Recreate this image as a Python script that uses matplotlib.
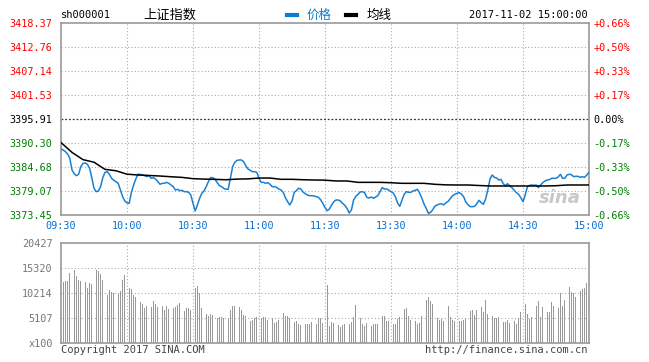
import numpy as np
import matplotlib.pyplot as plt

plt.rcParams['font.family'] = ['DejaVu Sans Mono', 'Noto Sans CJK SC']

# price per minute, 09:30..11:30 then 13:01..15:00
price = [
    3388.89, 3388.66, 3388.27, 3387.72, 3386.71, 3383.98, 3383.12, 3382.65, 3382.97, 3384.76,
    3385.54, 3385.62, 3385.31, 3384.37, 3382.19, 3379.69, 3378.91, 3379.07, 3380.08, 3382.19,
    3383.43, 3383.59, 3382.97, 3382.03, 3381.56, 3381.25, 3380.86, 3379.30, 3377.74, 3376.73,
    3376.26, 3376.18, 3378.75, 3380.47, 3381.87, 3382.97, 3382.97, 3382.81, 3382.65, 3382.42,
    3382.65, 3382.03, 3382.19, 3381.87, 3381.25, 3380.63, 3380.86, 3380.86, 3381.09, 3380.86,
    3380.47, 3380.08, 3379.30, 3379.46, 3379.14, 3379.22, 3378.91, 3378.91, 3378.75, 3378.13,
    3376.18, 3374.39, 3375.79, 3377.35, 3378.52, 3379.07, 3380.08, 3381.25, 3382.19, 3382.19,
    3381.80, 3381.02, 3380.31, 3380.08, 3379.69, 3379.46, 3379.46, 3382.03, 3384.76, 3385.77,
    3386.24, 3386.32, 3386.32, 3385.93, 3384.99, 3384.21, 3383.90, 3383.59, 3383.59, 3383.43,
    3382.03, 3381.09, 3381.09, 3380.86, 3381.02, 3380.63, 3380.08, 3380.08, 3379.92, 3379.53,
    3379.30, 3378.75, 3377.51, 3376.57, 3375.79, 3376.73, 3378.75, 3379.14, 3379.69, 3379.53,
    3378.83, 3378.44, 3378.13, 3377.97, 3377.97, 3377.90, 3377.74, 3377.58, 3377.04, 3376.18,
    3375.17, 3374.46, 3374.85, 3375.79, 3376.57, 3376.96, 3376.96, 3376.73, 3376.18, 3375.71,
    3375.01, 3373.92, 3374.62, 3376.96, 3377.82, 3378.29, 3378.83, 3378.91, 3378.68, 3377.58,
    3377.43, 3377.66, 3377.35, 3377.66, 3377.97, 3378.91, 3379.85, 3379.53, 3379.53, 3379.30,
    3378.91, 3378.60, 3377.74, 3376.26, 3375.48, 3376.96, 3378.29, 3378.91, 3378.75, 3378.75,
    3379.07, 3379.22, 3379.46, 3378.60, 3377.43, 3376.02, 3375.01, 3373.84, 3374.07, 3374.70,
    3375.56, 3375.79, 3376.02, 3376.10, 3375.79, 3376.34, 3376.65, 3377.35, 3377.97, 3378.29,
    3378.52, 3378.68, 3378.36, 3377.74, 3376.49, 3375.87, 3375.40, 3375.40, 3375.48, 3376.10,
    3376.88, 3376.34, 3375.95, 3377.19, 3379.30, 3381.87, 3382.81, 3382.26, 3382.11, 3381.64,
    3381.80, 3380.78, 3380.31, 3380.78, 3380.24, 3379.85, 3379.22, 3378.68, 3378.29, 3377.51,
    3376.57, 3378.13, 3380.08, 3380.39, 3380.47, 3380.39, 3380.47, 3379.85, 3380.47, 3381.02,
    3381.41, 3381.64, 3381.72, 3382.03, 3382.03, 3382.03, 3382.34, 3382.97, 3382.03, 3382.03,
    3382.81, 3382.97, 3382.89, 3382.42, 3382.50, 3382.50, 3382.26, 3382.42, 3382.26, 3382.81,
    3383.43,
]

# average line, read every 5 minutes
avg_min = list(range(0, 241, 5))
avg_price = [
    3390.40, 3388.10, 3386.40, 3385.80, 3384.13, 3383.80, 3383.00, 3382.81, 3382.70, 3382.57,
    3382.40, 3382.25, 3381.95, 3381.85, 3381.79, 3381.70, 3381.85, 3381.90, 3382.10, 3382.10,
    3381.80, 3381.80, 3381.70, 3381.64, 3381.60, 3381.41, 3381.41, 3381.09, 3381.09, 3381.09,
    3381.00, 3380.86, 3380.86, 3380.86, 3380.63, 3380.50, 3380.47, 3380.47, 3380.35, 3380.24,
    3380.24, 3380.24, 3380.24, 3380.24, 3380.24, 3380.30, 3380.47, 3380.47, 3380.47,
]

# volume per minute (x100)
volume = [
    12390, 12390, 12660, 12660, 14230, 14710, 14910, 13690, 12870, 12660,
    12530, 12390, 11170, 12190, 11980, 14030, 14910, 14710, 14030, 12870,
    11440, 9800, 10830, 10490, 10150, 9800, 9940, 10620, 12870, 13890,
    12320, 11300, 10960, 9800, 9330, 8780, 8440, 7900, 7220, 7560,
    7560, 7290, 8580, 7970, 7420, 7290, 7560, 6740, 7560, 6880,
    6740, 7220, 7290, 7760, 8100, 6740, 6540, 7220, 7080, 6740,
    9330, 11170, 11640, 10150, 7220, 6540, 5920, 5580, 5860, 5720,
    5380, 5170, 5240, 5310, 5040, 4700, 5040, 6740, 7560, 7560,
    6540, 7350, 6740, 5720, 5520, 5040, 4490, 4700, 5040, 5310,
    5170, 5040, 5240, 5310, 4700, 5310, 5040, 4020, 4360, 4700,
    5040, 6060, 5520, 5520, 5040, 6740, 4220, 4490, 3880, 3680,
    3680, 3880, 3880, 3810, 4220, 3810, 3810, 5040, 5040, 4020,
    410, 11850, 3470, 4360, 4150, 4490, 3680, 3340, 3680, 3880,
    3470, 3880, 4360, 5380, 7760, 5920, 5040, 3880, 3470, 4020,
    3680, 3470, 3810, 3880, 3880, 4020, 5520, 5520, 4490, 4490,
    3880, 3880, 3880, 4830, 5240, 6950, 6950, 7220, 5520, 4700,
    5040, 4490, 3880, 4150, 5520, 6540, 8780, 9330, 8580, 7970,
    6260, 5040, 4700, 4830, 4490, 6740, 7560, 5240, 4700, 4490,
    4020, 4490, 4490, 4700, 5040, 5380, 6540, 6740, 5720, 6740,
    6060, 7420, 6260, 8780, 5990, 6260, 5520, 5040, 5040, 5240,
    4490, 4220, 4360, 4700, 4020, 4150, 4490, 3810, 5040, 6260,
    10490, 7970, 5920, 4900, 5240, 5520, 7560, 8580, 5380, 7420,
    6740, 6400, 6260, 8440, 7560, 7970, 7080, 10150, 7560, 8780,
    15390, 11500, 10480, 10275, 9460, 10480, 10620, 10960, 11170, 12320,
    16610,
]

prev_close = 3395.91
price_ticks = [3418.37, 3412.76, 3407.14, 3401.53, 3395.91, 3390.30, 3384.68, 3379.07, 3373.45]
pct_labels = ['+0.66%', '+0.50%', '+0.33%', '+0.17%', '0.00%', '-0.17%', '-0.33%', '-0.50%', '-0.66%']
time_ticks = [0, 30, 60, 90, 120, 150, 180, 210, 240]
time_labels = ['09:30', '10:00', '10:30', '11:00', '11:30', '13:30', '14:00', '14:30', '15:00']
vol_ticks = [0, 5107, 10214, 15320, 20427]
vol_labels = ['x100', '5107', '10214', '15320', '20427']

W, H = 649, 362
fig = plt.figure(figsize=(W / 100, H / 100), dpi=100)
fig.patch.set_facecolor('white')

def box(x0, y0, x1, y1):
    return [x0 / W, 1 - y1 / H, (x1 - x0) / W, (y1 - y0) / H]

grey = '#999999'
gridc = '#aaaaaa'
blue = '#1a80d2'
tickblue = '#0a6fcf'
red = '#ff0000'
green = '#008000'

ax = fig.add_axes(box(61, 23, 589, 215))
minutes = np.arange(len(price))
ax.plot(minutes, price, color=blue, lw=1.1, zorder=3)
ax.plot(avg_min, avg_price, color='black', lw=1.1, zorder=3)
ax.set_xlim(0, 240)
ax.set_ylim(price_ticks[-1], price_ticks[0])
for t in price_ticks[1:-1]:
    if t == prev_close:
        ax.axhline(t, color='#333333', lw=0.9, ls=(0, (1.5, 1.5)), zorder=1)
    else:
        ax.axhline(t, color=gridc, lw=0.8, ls=(0, (1, 2)), zorder=1)
for t in time_ticks[1:-1]:
    ax.axvline(t, color=gridc, lw=0.8, ls=(0, (1, 2)), zorder=1)
for s in ax.spines.values():
    s.set_color(grey)
    s.set_linewidth(1.2)

ax.set_yticks(price_ticks)
ax.set_yticklabels(['%.2f' % v for v in price_ticks])
ax.tick_params(axis='y', length=0, pad=6, labelsize=7.3)
for lab, v in zip(ax.get_yticklabels(), price_ticks):
    lab.set_color(red if v > prev_close else ('black' if v == prev_close else green))
ax.set_xticks(time_ticks)
ax.set_xticklabels(time_labels)
ax.tick_params(axis='x', length=0, pad=4, labelsize=7.3, labelcolor=tickblue)

axr = ax.twinx()
axr.set_ylim(ax.get_ylim())
axr.set_yticks(price_ticks)
axr.set_yticklabels(pct_labels)
axr.tick_params(axis='y', length=0, pad=3, labelsize=7.3)
for lab, v in zip(axr.get_yticklabels(), price_ticks):
    lab.set_color(red if v > prev_close else ('black' if v == prev_close else green))
for s in axr.spines.values():
    s.set_visible(False)

# sina watermark
ax.text(0.985, 0.04, 'sina', transform=ax.transAxes, ha='right', va='bottom',
        fontsize=13, color='#c8c8c8', style='italic', fontweight='bold',
        family='DejaVu Sans', zorder=2)

# volume panel
axv = fig.add_axes(box(61, 243, 589, 343))
axv.bar(np.arange(len(volume)), volume, width=0.45, color=grey, zorder=2)
axv.set_xlim(0, 240)
axv.set_ylim(0, vol_ticks[-1])
for t in vol_ticks[1:-1]:
    axv.axhline(t, color=gridc, lw=0.8, ls=(0, (1, 2)), zorder=3)
for t in time_ticks[1:-1]:
    axv.axvline(t, color=gridc, lw=0.8, ls=(0, (1, 2)), zorder=3)
for s in axv.spines.values():
    s.set_color(grey)
    s.set_linewidth(1.2)
axv.set_yticks(vol_ticks)
axv.set_yticklabels(vol_labels)
axv.tick_params(axis='y', length=0, pad=6, labelsize=7.3, labelcolor='#777777')
axv.set_xticks([])

# header
fy = lambda y: 1 - y / H
fig.text(61 / W, fy(15), 'sh000001', fontsize=7.5, va='center', ha='left')
fig.text(143 / W, fy(15), '上证指数', fontsize=9.5, va='center', ha='left',
         family=['Noto Sans CJK SC'])
fig.lines.append(plt.Line2D([287 / W, 297 / W], [fy(15), fy(15)], color='#0b7dd0', lw=3,
                            transform=fig.transFigure))
fig.text(307 / W, fy(15), '价格', fontsize=9, va='center', ha='left', color='#0b7dd0',
         family=['Noto Sans CJK SC'])
fig.lines.append(plt.Line2D([346 / W, 356 / W], [fy(15), fy(15)], color='black', lw=3,
                            transform=fig.transFigure))
fig.text(367 / W, fy(15), '均线', fontsize=9, va='center', ha='left',
         family=['Noto Sans CJK SC'])
fig.text(588 / W, fy(15), '2017-11-02 15:00:00', fontsize=7.5, va='center', ha='right')

# footer
fig.text(61 / W, fy(350), 'Copyright 2017 SINA.COM', fontsize=7.5, va='center', ha='left',
         color='#444444')
fig.text(588 / W, fy(350), 'http://finance.sina.com.cn', fontsize=7.5, va='center',
         ha='right', color='#444444')

fig.savefig('out.png', dpi=100)
